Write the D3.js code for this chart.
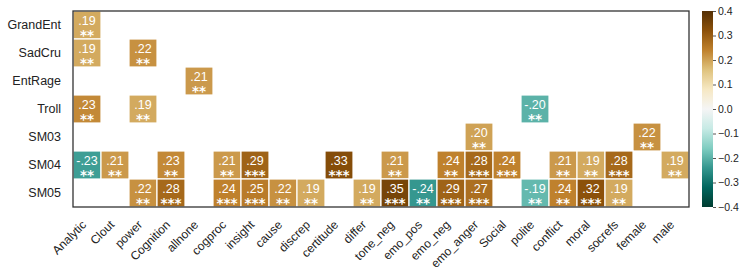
<!DOCTYPE html>
<html>
<head>
<meta charset="utf-8">
<script src="https://cdn.jsdelivr.net/npm/d3@7"></script>
<style>
  body { margin: 0; background: #fff; }
  svg { font-family: Arial, "Liberation Sans", sans-serif; display: block; }
</style>
</head>
<body>
<svg id="chart" width="747" height="280"></svg>
<script>
const rows = ["GrandEnt", "SadCru", "EntRage", "Troll", "SM03", "SM04", "SM05"];
const cols = ["Analytic", "Clout", "power", "Cognition", "allnone", "cogproc", "insight",
  "cause", "discrep", "certitude", "differ", "tone_neg", "emo_pos", "emo_neg", "emo_anger",
  "Social", "polite", "conflict", "moral", "socrefs", "female", "male"];

// [row, column, r, significance]
const cells = [
  ["GrandEnt", "Analytic", 0.19, "**"],
  ["SadCru", "Analytic", 0.19, "**"],
  ["SadCru", "power", 0.22, "**"],
  ["EntRage", "allnone", 0.21, "**"],
  ["Troll", "Analytic", 0.23, "**"],
  ["Troll", "power", 0.19, "**"],
  ["Troll", "polite", -0.20, "**"],
  ["SM03", "emo_anger", 0.20, "**"],
  ["SM03", "female", 0.22, "**"],
  ["SM04", "Analytic", -0.23, "**"],
  ["SM04", "Clout", 0.21, "**"],
  ["SM04", "Cognition", 0.23, "**"],
  ["SM04", "cogproc", 0.21, "**"],
  ["SM04", "insight", 0.29, "***"],
  ["SM04", "certitude", 0.33, "***"],
  ["SM04", "tone_neg", 0.21, "**"],
  ["SM04", "emo_neg", 0.24, "**"],
  ["SM04", "emo_anger", 0.28, "***"],
  ["SM04", "Social", 0.24, "***"],
  ["SM04", "conflict", 0.21, "**"],
  ["SM04", "moral", 0.19, "**"],
  ["SM04", "socrefs", 0.28, "***"],
  ["SM04", "male", 0.19, "**"],
  ["SM05", "power", 0.22, "**"],
  ["SM05", "Cognition", 0.28, "***"],
  ["SM05", "cogproc", 0.24, "***"],
  ["SM05", "insight", 0.25, "***"],
  ["SM05", "cause", 0.22, "**"],
  ["SM05", "discrep", 0.19, "**"],
  ["SM05", "differ", 0.19, "**"],
  ["SM05", "tone_neg", 0.35, "***"],
  ["SM05", "emo_pos", -0.24, "**"],
  ["SM05", "emo_neg", 0.29, "***"],
  ["SM05", "emo_anger", 0.27, "***"],
  ["SM05", "polite", -0.19, "**"],
  ["SM05", "conflict", 0.24, "**"],
  ["SM05", "moral", 0.32, "***"],
  ["SM05", "socrefs", 0.19, "**"]
];

const colorTicks = [0.4, 0.3, 0.2, 0.1, 0.0, -0.1, -0.2, -0.3, -0.4];

// BrBG reversed: brown for positive, teal for negative
const brbg = ["#543005", "#8c510a", "#bf812d", "#dfc27d", "#f6e8c3", "#f5f5f5",
  "#c7eae5", "#80cdc1", "#35978f", "#01665e", "#003c30"];
const color = d3.scaleLinear()
  .domain(d3.range(11).map(i => 0.4 - i * 0.08))
  .range(brbg)
  .clamp(true);

const svg = d3.select("#chart");
const plot = { left: 73, right: 689, top: 11, bottom: 207 };

const x = d3.scaleBand().domain(cols).range([plot.left, plot.right]);
const y = d3.scaleBand().domain(rows).range([plot.top, plot.bottom]);

// ".19" / "-.23" style labels
const fmt = v => (v < 0 ? "-" : "") + Math.abs(v).toFixed(2).replace(/^0/, "");

const cellG = svg.append("g").selectAll("g")
  .data(cells)
  .enter()
  .append("g")
  .attr("transform", d => `translate(${x(d[1])},${y(d[0])})`);

cellG.append("rect")
  .attr("width", x.bandwidth())
  .attr("height", y.bandwidth())
  .attr("fill", d => color(d[2]))
  .attr("stroke", "#fff")
  .attr("stroke-width", 1.2);

cellG.append("text")
  .attr("x", x.bandwidth() / 2)
  .attr("y", 13.6)
  .attr("text-anchor", "middle")
  .attr("font-size", 12.5)
  .attr("fill", "#fff")
  .text(d => fmt(d[2]));

cellG.append("text")
  .attr("x", x.bandwidth() / 2)
  .attr("y", 29)
  .attr("text-anchor", "middle")
  .attr("font-family", "'DejaVu Sans', sans-serif")
  .attr("font-size", 13.5)
  .attr("font-weight", "bold")
  .attr("fill", "#fff")
  .text(d => d[3]);

// frame
svg.append("rect")
  .attr("x", plot.left)
  .attr("y", plot.top)
  .attr("width", plot.right - plot.left)
  .attr("height", plot.bottom - plot.top)
  .attr("fill", "none")
  .attr("stroke", "#333")
  .attr("stroke-width", 1.3);

// row labels
svg.append("g").selectAll("text")
  .data(rows)
  .enter()
  .append("text")
  .attr("x", plot.left - 12)
  .attr("y", d => y(d) + y.bandwidth() / 2)
  .attr("dy", "0.35em")
  .attr("text-anchor", "end")
  .attr("font-size", 12.5)
  .attr("fill", "#222")
  .text(d => d);

// column labels
svg.append("g").selectAll("text")
  .data(cols)
  .enter()
  .append("text")
  .attr("transform", d => `translate(${x(d) + x.bandwidth() / 2},225.5) rotate(-45)`)
  .attr("text-anchor", "end")
  .attr("font-size", 12)
  .attr("fill", "#222")
  .text(d => d);

// colorbar
const cb = { x: 702, w: 11, top: 11, bottom: 207 };
const cy = d3.scaleLinear().domain([0.4, -0.4]).range([cb.top, cb.bottom]);

const grad = svg.append("defs").append("linearGradient")
  .attr("id", "cbgrad")
  .attr("x1", 0).attr("y1", 0).attr("x2", 0).attr("y2", 1);
grad.selectAll("stop")
  .data(d3.range(0, 41))
  .enter()
  .append("stop")
  .attr("offset", i => i / 40)
  .attr("stop-color", i => color(0.4 - i * 0.02));

svg.append("rect")
  .attr("x", cb.x)
  .attr("y", cb.top)
  .attr("width", cb.w)
  .attr("height", cb.bottom - cb.top)
  .attr("fill", "url(#cbgrad)");

const cbAxis = d3.axisRight(cy)
  .tickValues(colorTicks)
  .tickSize(3)
  .tickPadding(2)
  .tickFormat(d => d3.format(".1f")(d));

const cbG = svg.append("g")
  .attr("transform", `translate(${cb.x + cb.w},0)`)
  .call(cbAxis);
cbG.select(".domain").remove();
cbG.selectAll(".tick line").attr("stroke", "#555");
cbG.selectAll(".tick text")
  .attr("font-size", 10.5)
  .attr("font-family", "Arial, 'Liberation Sans', sans-serif")
  .attr("fill", "#222");
</script>
</body>
</html>
